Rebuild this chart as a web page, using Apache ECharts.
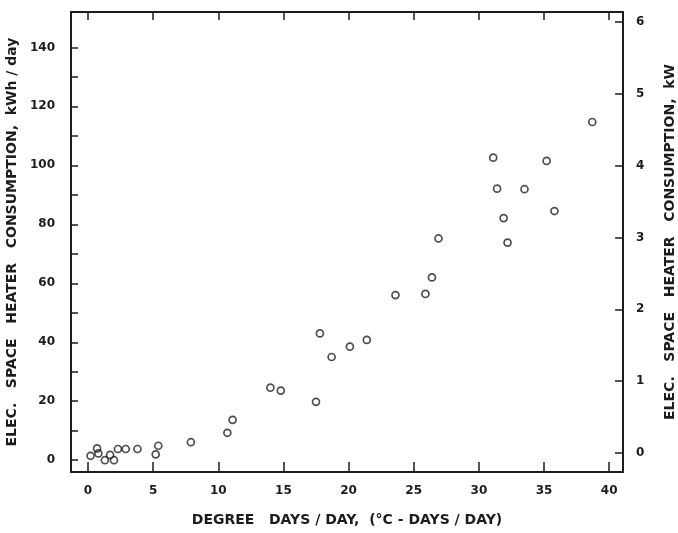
<!DOCTYPE html>
<html>
<head>
<meta charset="utf-8">
<script src="https://cdn.jsdelivr.net/npm/echarts@6/dist/echarts.min.js"></script>
<style>
html,body{margin:0;padding:0;background:#fff;}
#chart{width:678px;height:533px;}
</style>
</head>
<body>
<div id="chart"></div>
<script>
// Data
const degreeDays = [0.2, 0.7, 0.8, 1.3, 1.7, 2.0, 2.3, 2.9, 3.8, 5.2, 5.4, 7.9, 10.7, 11.1, 14.0, 14.8, 17.5, 17.8, 18.7, 20.1, 21.4, 23.6, 25.9, 26.4, 26.9, 31.1, 31.4, 31.9, 32.2, 33.5, 35.2, 35.8, 38.7];
const consumption = [1.5, 4.0, 2.3, 0, 1.8, 0, 3.8, 3.8, 3.8, 2.0, 4.9, 6.1, 9.3, 13.7, 24.6, 23.6, 19.8, 43.0, 35.0, 38.5, 40.8, 56.0, 56.4, 62.0, 75.2, 102.6, 92.1, 82.1, 73.8, 91.9, 101.5, 84.5, 114.7];
const xTicks = [0, 5, 10, 15, 20, 25, 30, 35, 40];
const yTicks = [0, 10, 20, 30, 40, 50, 60, 70, 80, 90, 100, 110, 120, 130, 140];
const yLabels = [0, 20, 40, 60, 80, 100, 120, 140];
const kwTicks = [0, 1, 2, 3, 4, 5, 6];
const xTitle = 'DEGREE   DAYS / DAY,  (°C - DAYS / DAY)';
const yTitle = 'ELEC.   SPACE   HEATER   CONSUMPTION,  kWh / day';
const y2Title = 'ELEC.   SPACE   HEATER   CONSUMPTION,  kW';

const ink = '#1c1c1c';
const font = 'DejaVu Sans';
const lineStyle = {color: ink, width: 2};
const titleStyle = {color: ink, fontFamily: font, fontWeight: 'bold', fontSize: 14};
const labelStyle = {color: ink, fontFamily: font, fontWeight: 'bold', fontSize: 12};

const chart = echarts.init(document.getElementById('chart'), null, {renderer: 'canvas'});
chart.setOption({
  backgroundColor: '#ffffff',
  animation: false,
  grid: {left: 71, right: 55, top: 12, bottom: 61, containLabel: false, outerBoundsMode: 'none'},
  xAxis: [{
    type: 'value', position: 'bottom', min: -1.3, max: 41.06,
    axisLine: {show: true, onZero: false, lineStyle: lineStyle},
    axisTick: {show: true, inside: true, length: 10, customValues: xTicks, lineStyle: {color: ink, width: 1.5}},
    axisLabel: Object.assign({show: true, customValues: xTicks, margin: 13}, labelStyle),
    splitLine: {show: false},
    name: xTitle, nameLocation: 'middle', nameGap: 41,
    nameTextStyle: titleStyle
  }, {
    type: 'value', position: 'top', min: -1.3, max: 41.06,
    axisLine: {show: true, onZero: false, lineStyle: lineStyle},
    axisTick: {show: true, inside: true, length: 8, customValues: xTicks, lineStyle: {color: ink, width: 1.5}},
    axisLabel: {show: false},
    splitLine: {show: false}
  }],
  yAxis: [{
    type: 'value', position: 'left', min: -4, max: 152,
    axisLine: {show: true, onZero: false, lineStyle: lineStyle},
    axisTick: {show: true, inside: true, length: 7, customValues: yTicks, lineStyle: {color: ink, width: 1.5}},
    axisLabel: Object.assign({show: true, customValues: yLabels, margin: 16}, labelStyle),
    splitLine: {show: false},
    name: yTitle, nameLocation: 'middle', nameGap: 47, nameRotate: 90,
    nameTextStyle: titleStyle
  }, {
    type: 'value', position: 'right', min: -0.2645, max: 6.139,
    axisLine: {show: true, onZero: false, lineStyle: lineStyle},
    axisTick: {show: true, inside: true, length: 8, customValues: kwTicks, lineStyle: {color: ink, width: 1.5}},
    axisLabel: Object.assign({show: true, customValues: kwTicks, margin: 13}, labelStyle),
    splitLine: {show: false},
    name: y2Title, nameLocation: 'middle', nameGap: 40, nameRotate: 90,
    nameTextStyle: titleStyle
  }],
  series: [{
    type: 'scatter',
    xAxisIndex: 0, yAxisIndex: 0,
    data: degreeDays.map((d, i) => [d, consumption[i]]),
    symbol: 'circle', symbolSize: 7,
    itemStyle: {color: 'rgba(0,0,0,0)', borderColor: '#222222', borderWidth: 1.7},
    emphasis: {disabled: true}
  }]
});
</script>
</body>
</html>
